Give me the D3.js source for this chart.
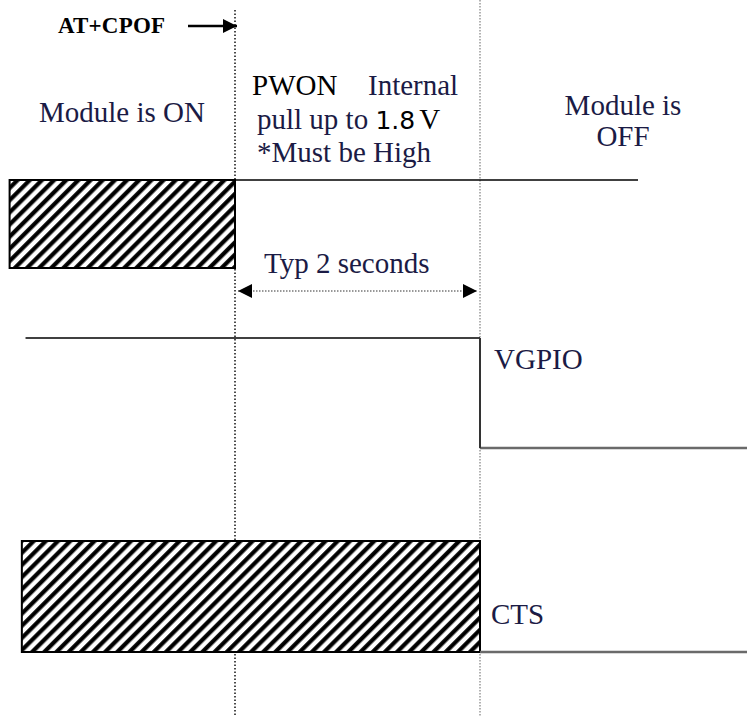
<!DOCTYPE html>
<html lang="en">
<head>
  <meta charset="UTF-8" />
  <title>AT+CPOF power-off timing</title>
  <script src="https://d3js.org/d3.v7.min.js"></script>
  <style>
    body { margin: 0; background: #fff; }
    svg { display: block; }
    text { font-family: "Liberation Serif", "Times New Roman", serif; fill: #1b1b45; font-size: 29px; }
  </style>
</head>
<body>
<svg id="chart" width="747" height="717"></svg>
<script>
  // time in seconds, 0 = AT+CPOF sent
  const eventTimes = [0, 2];
  const eventLabels = ["AT+CPOF", ""];
  const signalNames = ["PWON", "VGPIO", "CTS"];
  // [start, end, level]  X = undefined (hatched), H = high, L = low
  const pwonSegments = [[-1.84, 0, "X"], [0, 3.29, "H"]];
  const vgpioSegments = [[-1.71, 2, "H"], [2, 4.2, "L"]];
  const ctsSegments = [[-1.74, 2, "X"], [2, 4.2, "L"]];
  const delaySpan = [0, 2];
  const delayLabel = "Typ 2 seconds";
  const stateLabels = ["Module is ON", "Module is OFF"];

  const svg = d3.select("#chart");
  const x = d3.scaleLinear().domain([0, 2]).range([235, 480]);

  // high / low y of each signal row
  const rowY = {
    PWON: { H: 180, L: 268 },
    VGPIO: { H: 338, L: 448 },
    CTS: { H: 541, L: 652 }
  };

  const defs = svg.append("defs");
  const hw = 8.6;
  const pat = defs.append("pattern")
    .attr("id", "hatch")
    .attr("patternUnits", "userSpaceOnUse")
    .attr("width", hw).attr("height", hw)
    .attr("patternTransform", "rotate(45)");
  pat.append("rect").attr("width", hw).attr("height", hw).attr("fill", "#fff");
  pat.append("line").attr("x1", 2.2).attr("y1", 0).attr("x2", 2.2).attr("y2", hw)
    .attr("stroke", "#000").attr("stroke-width", 4.2);

  defs.append("marker")
    .attr("id", "head")
    .attr("viewBox", "0 0 10 10")
    .attr("refX", 10).attr("refY", 5)
    .attr("markerWidth", 16).attr("markerHeight", 14)
    .attr("markerUnits", "userSpaceOnUse")
    .attr("orient", "auto-start-reverse")
    .append("path").attr("d", "M0,0L10,5L0,10Z").attr("fill", "#000");

  // event marker lines
  svg.append("line")
    .attr("x1", x(eventTimes[0])).attr("x2", x(eventTimes[0]))
    .attr("y1", 10).attr("y2", 717)
    .attr("stroke", "#111").attr("stroke-width", 1.5)
    .attr("stroke-dasharray", "1.5,2");
  svg.append("line")
    .attr("x1", x(eventTimes[1])).attr("x2", x(eventTimes[1]))
    .attr("y1", 0).attr("y2", 717)
    .attr("stroke", "#999").attr("stroke-width", 1.5)
    .attr("stroke-dasharray", "1.5,1.5");

  // AT+CPOF command + arrow
  svg.append("text")
    .attr("x", 58).attr("y", 33)
    .attr("textLength", 107)
    .style("font-size", "23px").style("font-weight", "bold").style("fill", "#000")
    .text(eventLabels[0]);
  svg.append("line")
    .attr("x1", 188).attr("x2", x(eventTimes[0]) + 2)
    .attr("y1", 26).attr("y2", 26)
    .attr("stroke", "#000").attr("stroke-width", 2.5)
    .attr("marker-end", "url(#head)");

  // signals
  const segs = { PWON: pwonSegments, VGPIO: vgpioSegments, CTS: ctsSegments };
  signalNames.forEach(name => {
    const r = rowY[name];
    const list = segs[name];
    list.forEach((s, i) => {
      const [t0, t1, lv] = s;
      if (lv === "X") {
        svg.append("rect")
          .attr("x", x(t0)).attr("y", r.H)
          .attr("width", x(t1) - x(t0)).attr("height", r.L - r.H)
          .attr("fill", "url(#hatch)")
          .attr("stroke", "#000").attr("stroke-width", 2);
      } else {
        svg.append("line")
          .attr("x1", x(t0)).attr("x2", x(t1))
          .attr("y1", r[lv]).attr("y2", r[lv])
          .attr("stroke", lv === "H" ? "#000" : "#6a6a6a")
          .attr("stroke-width", lv === "H" ? 1.5 : 2.5);
      }
      const prev = list[i - 1];
      if (prev && prev[2] !== "X" && lv !== "X" && prev[2] !== lv) {
        svg.append("line")
          .attr("x1", x(t0)).attr("x2", x(t0))
          .attr("y1", r[prev[2]]).attr("y2", r[lv])
          .attr("stroke", "#333").attr("stroke-width", 2);
      }
    });
  });

  // typical delay arrow
  svg.append("line")
    .attr("x1", x(delaySpan[0]) + 3).attr("x2", x(delaySpan[1]) - 3)
    .attr("y1", 291).attr("y2", 291)
    .attr("stroke", "#777").attr("stroke-width", 1.5)
    .attr("stroke-dasharray", "1.5,1.5")
    .attr("marker-start", "url(#head)")
    .attr("marker-end", "url(#head)");
  svg.append("text")
    .attr("x", 264).attr("y", 273)
    .text(delayLabel);

  // state labels
  svg.append("text")
    .attr("x", 122).attr("y", 122).attr("text-anchor", "middle")
    .text(stateLabels[0]);
  const off = svg.append("text")
    .attr("x", 623).attr("y", 115).attr("text-anchor", "middle");
  off.append("tspan").attr("x", 623).text("Module is");
  off.append("tspan").attr("x", 623).attr("dy", 31).text("OFF");

  // PWON note
  const note = svg.append("text");
  note.append("tspan").attr("x", 252).attr("y", 95).style("fill", "#000").text("PWON");
  note.append("tspan").attr("x", 368).attr("y", 95).text("Internal");
  note.append("tspan").attr("x", 257).attr("y", 129).text("pull up to ");
  note.append("tspan").style("fill", "#000").style("font-family", "'DejaVu Sans', sans-serif")
    .style("font-size", "25px").text("1.8");
  note.append("tspan").attr("dx", 4).style("fill", "#000").text("V");
  note.append("tspan").attr("x", 257).attr("y", 162).text("*Must be High");

  // signal names
  svg.append("text").attr("x", 494).attr("y", 369).text(signalNames[1]);
  svg.append("text").attr("x", 491).attr("y", 624).text(signalNames[2]);
</script>
</body>
</html>
